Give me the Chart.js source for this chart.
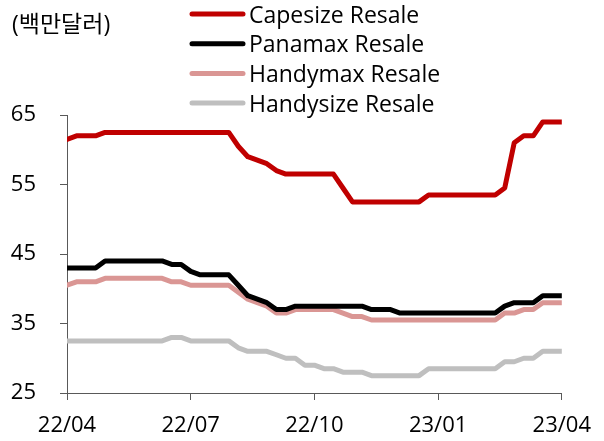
<!DOCTYPE html>
<html>
<head>
<meta charset="utf-8">
<script src="https://cdn.jsdelivr.net/npm/chart.js@4"></script>
<style>
  html, body { margin: 0; padding: 0; background: #fff; }
  #wrap { width: 604px; height: 441px; position: relative; }
</style>
</head>
<body>
<div id="wrap"><canvas id="c" width="604" height="441"></canvas></div>
<script>
// ---- data (weekly, 22/04 .. 23/04) ----
const unitLabel = '(백만달러)';
const seriesNames = ['Capesize Resale', 'Panamax Resale', 'Handymax Resale', 'Handysize Resale'];
const tickLabels = ['22/04', '22/07', '22/10', '23/01', '23/04'];
const yTicks = [25, 35, 45, 55, 65];

const capesize = [61.5, 62, 62, 62,
  62.5, 62.5, 62.5, 62.5, 62.5, 62.5, 62.5, 62.5, 62.5, 62.5, 62.5, 62.5, 62.5, 62.5,
  60.5, 59, 58.5, 58, 57, 56.5, 56.5, 56.5, 56.5, 56.5, 56.5,
  54.5, 52.5, 52.5, 52.5, 52.5, 52.5, 52.5, 52.5, 52.5,
  53.5, 53.5, 53.5, 53.5, 53.5, 53.5, 53.5, 53.5,
  54.5, 61, 62, 62, 64, 64, 64];
const panamax = [43, 43, 43, 43,
  44, 44, 44, 44, 44, 44, 44, 43.5, 43.5, 42.5, 42, 42, 42, 42,
  40.5, 39, 38.5, 38, 37, 37, 37.5, 37.5, 37.5, 37.5, 37.5,
  37.5, 37.5, 37.5, 37, 37, 37, 36.5, 36.5, 36.5,
  36.5, 36.5, 36.5, 36.5, 36.5, 36.5, 36.5, 36.5,
  37.5, 38, 38, 38, 39, 39, 39];
const handymax = [40.5, 41, 41, 41,
  41.5, 41.5, 41.5, 41.5, 41.5, 41.5, 41.5, 41, 41, 40.5, 40.5, 40.5, 40.5, 40.5,
  39.5, 38.5, 38, 37.5, 36.5, 36.5, 37, 37, 37, 37, 37,
  36.5, 36, 36, 35.5, 35.5, 35.5, 35.5, 35.5, 35.5,
  35.5, 35.5, 35.5, 35.5, 35.5, 35.5, 35.5, 35.5,
  36.5, 36.5, 37, 37, 38, 38, 38];
const handysize = [32.5, 32.5, 32.5, 32.5,
  32.5, 32.5, 32.5, 32.5, 32.5, 32.5, 32.5, 33, 33, 32.5, 32.5, 32.5, 32.5, 32.5,
  31.5, 31, 31, 31, 30.5, 30, 30, 29, 29, 28.5, 28.5,
  28, 28, 28, 27.5, 27.5, 27.5, 27.5, 27.5, 27.5,
  28.5, 28.5, 28.5, 28.5, 28.5, 28.5, 28.5, 28.5,
  29.5, 29.5, 30, 30, 31, 31, 31];

const colors = ['#C00000', '#000000', '#DA9694', '#BFBFBF'];
const FONT = "'Open Sans', 'Noto Sans CJK KR', sans-serif";
const WEEKS_PER_TICK = 13;

function pts(arr) { return arr.map((v, i) => ({ x: i, y: v })); }

const legendPlugin = {
  id: 'customLegend',
  afterDraw(chart) {
    const ctx = chart.ctx;
    ctx.save();
    ctx.fillStyle = '#000';
    ctx.textBaseline = 'middle';
    ctx.textAlign = 'left';
    ctx.font = '23px ' + FONT;
    ctx.fillText(unitLabel, 12, 25);
    chart.data.datasets.forEach((ds, i) => {
      const y = 14 + i * 29.7;
      ctx.strokeStyle = ds.borderColor;
      ctx.lineWidth = 5;
      ctx.lineCap = 'round';
      ctx.beginPath();
      ctx.moveTo(192, y);
      ctx.lineTo(243, y);
      ctx.stroke();
      ctx.fillStyle = '#000';
      ctx.fillText(ds.label, 249, y + 2);
    });
    ctx.restore();
  }
};

const datasets = [capesize, panamax, handymax, handysize].map((arr, i) => ({
  label: seriesNames[i],
  data: pts(arr),
  borderColor: colors[i],
  backgroundColor: colors[i],
  borderWidth: 5,
  pointRadius: 0,
  tension: 0,
  borderJoinStyle: 'round',
  borderCapStyle: 'round',
  fill: false,
  order: i
}));

new Chart(document.getElementById('c'), {
  type: 'line',
  data: { datasets },
  options: {
    responsive: false,
    animation: false,
    devicePixelRatio: 1,
    layout: { padding: { top: 115, right: 41, left: 0, bottom: 0 } },
    plugins: { legend: { display: false }, tooltip: { enabled: false }, title: { display: false } },
    scales: {
      x: {
        type: 'linear',
        min: 0,
        max: (tickLabels.length - 1) * WEEKS_PER_TICK,
        afterBuildTicks(scale) {
          scale.ticks = tickLabels.map((_, i) => ({ value: i * WEEKS_PER_TICK }));
        },
        afterFit(scale) { scale.height = 48; },
        ticks: {
          autoSkip: false,
          maxRotation: 0,
          padding: 13,
          color: '#000',
          font: { family: FONT, size: 22 },
          callback: (v) => tickLabels[Math.round(v / WEEKS_PER_TICK)]
        },
        grid: { drawOnChartArea: false, drawTicks: true, tickLength: 7, tickColor: '#595959', tickWidth: 1 },
        border: { display: true, color: '#595959', width: 1 }
      },
      y: {
        min: yTicks[0],
        max: yTicks[yTicks.length - 1],
        afterBuildTicks(scale) {
          scale.ticks = yTicks.map(v => ({ value: v }));
        },
        afterFit(scale) { scale.width = 67; },
        ticks: {
          padding: 24,
          color: '#000',
          font: { family: FONT, size: 22 }
        },
        grid: { drawOnChartArea: false, drawTicks: true, tickLength: 7, tickColor: '#595959', tickWidth: 1 },
        border: { display: true, color: '#595959', width: 1 }
      }
    }
  },
  plugins: [legendPlugin]
});
</script>
</body>
</html>
